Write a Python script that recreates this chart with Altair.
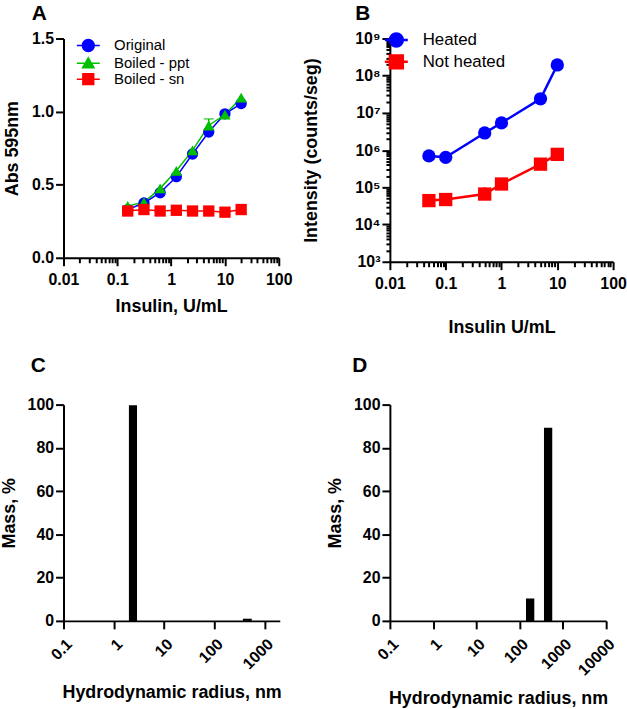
import altair as alt
import pandas as pd

FONT = "Liberation Sans"

# ---------------- Panel A ----------------
a_conc = [0.156, 0.3125, 0.625, 1.25, 2.5, 5, 10, 20]
a_original = [0.33, 0.375, 0.445, 0.555, 0.71, 0.86, 0.985, 1.055]
a_boiled_ppt = [0.355, 0.38, 0.475, 0.595, 0.735, 0.905, 0.98, 1.095]
a_boiled_ppt_sd = [0, 0, 0, 0, 0, 0.045, 0, 0]
a_boiled_sn = [0.32, 0.33, 0.32, 0.325, 0.32, 0.32, 0.312, 0.33]
a_series = ["Original", "Boiled - ppt", "Boiled - sn"]
a_colors = ["#0000ff", "#00c000", "#ff0000"]
a_shapes = ["circle", "triangle-up", "square"]

# ---------------- Panel B ----------------
b_conc = [0.05, 0.1, 0.5, 1, 5, 10]
b_heated = [7.0e5, 6.4e5, 2.9e6, 5.4e6, 2.4e7, 1.95e8]
b_heated_sd = [2.5e5, 0, 0, 0, 0, 0]
b_not_heated = [4.4e4, 4.7e4, 6.6e4, 1.23e5, 4.2e5, 7.7e5]
b_not_heated_sd = [1.8e4, 0, 3.4e4, 0, 1.6e5, 0]
b_series = ["Heated", "Not heated"]
b_colors = ["#0000ff", "#ff0000"]
b_shapes = ["circle", "square"]

# ---------------- Panel C ----------------
c_lo = [2.0, 370]
c_hi = [2.9, 555]
c_mass = [99.7, 1.0]

# ---------------- Panel D ----------------
d_lo = [140, 365]
d_hi = [218, 567]
d_mass = [10.4, 89.3]

# tick values (axis decoration)
ab_x_ticks = [m * 10.0 ** k for k in range(-2, 2) for m in range(1, 10)] + [100]
b_y_ticks = [m * 10.0 ** k for k in range(3, 9) for m in range(1, 10)] + [1e9]

POW10 = "(abs(log(datum.value)/LN10 - round(log(datum.value)/LN10)) < 1e-6)"
LOG_LABEL = POW10 + " ? format(datum.value, '~g') : ''"
SUP = "['\u2070','\u00b9','\u00b2','\u00b3','\u2074','\u2075','\u2076','\u2077','\u2078','\u2079']"
SUP_LABEL = POW10 + " ? '10' + " + SUP + "[round(log(datum.value)/LN10)] : ''"


def minor_ticks(major, minor):
    return {"condition": {"test": POW10, "value": major}, "value": minor}


def circle_path(r):
    return f"M-{r},0A{r},{r} 0 1,0 {r},0A{r},{r} 0 1,0 -{r},0Z"


def legend(sw, x, y, fs, rowpad, offset):
    return alt.Legend(
        title=None, orient="none", legendX=x, legendY=y, padding=0,
        labelFont=FONT, labelFontSize=fs, labelFontWeight="normal", labelColor="black",
        symbolSize=196, labelOffset=offset, rowPadding=rowpad,
        symbolStrokeWidth=sw, symbolOpacity=1,
    )


def panel_title(t, dx, offset):
    return alt.TitleParams(t, anchor="start", frame="group", dx=dx, offset=offset,
                           fontSize=21, fontWeight="bold", font=FONT, color="black")


def line_panel(df, series, colors, shapes, paths, xaxis, yaxis, xdom, ydom, ytype,
               lw, msize, leg, with_cap):
    xs = alt.Scale(type="log", domain=xdom, nice=False)
    ys = alt.Scale(type=ytype, domain=ydom, nice=False)
    x = alt.X("conc:Q", scale=xs, axis=xaxis)
    y = alt.Y("value:Q", scale=ys, axis=yaxis)
    col = alt.Color("series:N", scale=alt.Scale(domain=series, range=colors), legend=None)
    base = alt.Chart(df)
    err = base.transform_filter("datum.sd > 0")
    layers = [
        base.mark_line(strokeWidth=lw).encode(x=x, y=y, color=col),
        err.mark_rule(strokeWidth=lw).encode(x="conc:Q", y="value:Q", y2="upper:Q", color=col),
    ]
    if with_cap:
        layers.append(err.mark_tick(orient="horizontal", size=10, thickness=1.5).encode(
            x="conc:Q", y="upper:Q", color=col))
    layers.append(base.mark_point(filled=True, size=msize, opacity=1).encode(
        x=x, y=y, color=col,
        shape=alt.Shape("series:N", scale=alt.Scale(domain=series, range=shapes), legend=None)))
    # legend carrier (invisible marks, visible legend)
    layers.append(base.mark_point(opacity=0).encode(
        x=x, y=y,
        fill=alt.Fill("series:N", scale=alt.Scale(domain=series, range=colors), legend=leg),
        stroke=alt.Stroke("series:N", scale=alt.Scale(domain=series, range=colors), legend=leg),
        shape=alt.Shape("series:N", scale=alt.Scale(domain=series, range=paths), legend=leg)))
    return alt.layer(*layers).resolve_scale(shape="independent", fill="independent",
                                            stroke="independent")


# ---------- build A ----------
rows = []
for s, vals, sds in [("Original", a_original, [0] * 8),
                     ("Boiled - ppt", a_boiled_ppt, a_boiled_ppt_sd),
                     ("Boiled - sn", a_boiled_sn, [0] * 8)]:
    for c, v, e in zip(a_conc, vals, sds):
        rows.append({"conc": c, "value": v, "series": s, "upper": v + e, "sd": e})
a_df = pd.DataFrame(rows)

seg = "M-1.65,0H1.65"
a_paths = [seg + circle_path(0.86),
           seg + "M0,-0.8L0.82,0.62L-0.82,0.62Z",
           seg + "M-0.78,-0.78H0.78V0.78H-0.78Z"]

ax_a = alt.Axis(values=ab_x_ticks, labelExpr=LOG_LABEL, tickSize=minor_ticks(8, 5), labelPadding=6,
                title="Insulin, U/mL", titlePadding=10, labelOverlap=False, labelFlush=False)
ay_a = alt.Axis(values=[0, 0.5, 1, 1.5], format=".1f", tickSize=8,
                title="Abs 595nm", titlePadding=10)
A = line_panel(a_df, a_series, a_colors, a_shapes, a_paths, ax_a, ay_a, [0.01, 100], [0, 1.5],
               "linear", 1.5, 130, legend(1.5, 17, -1, 15, -1, 18), True
               ).properties(width=217, height=221, title=panel_title("A", -32, 7))

# ---------- build B ----------
rows = []
for s, vals, sds in [("Heated", b_heated, b_heated_sd), ("Not heated", b_not_heated, b_not_heated_sd)]:
    for c, v, e in zip(b_conc, vals, sds):
        rows.append({"conc": c, "value": v, "series": s, "upper": v + e, "sd": e})
b_df = pd.DataFrame(rows)

b_paths = [seg + circle_path(0.93), seg + "M-0.93,-0.93H0.93V0.93H-0.93Z"]
ax_b = alt.Axis(values=ab_x_ticks, labelExpr=LOG_LABEL, tickSize=minor_ticks(8, 5), labelPadding=6,
                title="Insulin U/mL", titlePadding=27, labelOverlap=False, labelFlush=False)
ay_b = alt.Axis(values=b_y_ticks, labelExpr=SUP_LABEL, tickSize=minor_ticks(8, 4),
                title="Intensity (counts/seg)", titlePadding=34, labelOverlap=False,
                labelFlush=False)
B = line_panel(b_df, b_series, b_colors, b_shapes, b_paths, ax_b, ay_b, [0.01, 100], [1e3, 1e9],
               "log", 2.5, 180, legend(2.5, -2, -7, 17, -3, 18), False
               ).properties(width=225, height=225, title=panel_title("B", -35, 7))


# ---------- build C / D ----------
def size_panel(lo, hi, mass, dmax, ticks, letter, dx):
    df = pd.DataFrame({"lo": lo, "hi": hi, "mass": mass})
    return alt.Chart(df).mark_rect(color="black").encode(
        x=alt.X("lo:Q", scale=alt.Scale(type="log", domain=[0.1, dmax], nice=False),
                axis=alt.Axis(values=ticks, labelExpr="format(datum.value, '~g')", labelAngle=-45,
                              labelOffset=0, labelPadding=7, tickSize=8,
                              title="Hydrodynamic radius, nm",
                              titlePadding=12, labelOverlap=False, labelFlush=False)),
        x2="hi:Q",
        y=alt.Y("mass:Q", scale=alt.Scale(domain=[0, 100], nice=False),
                axis=alt.Axis(values=[0, 20, 40, 60, 80, 100], tickSize=8, title="Mass, %",
                              titlePadding=9)),
        y2=alt.datum(0),
    ).properties(width=218, height=218, title=panel_title(letter, dx, 21))


C = size_panel(c_lo, c_hi, c_mass, 2000, [0.1, 1, 10, 100, 1000], "C", -33)
D = size_panel(d_lo, d_hi, d_mass, 10000, [0.1, 1, 10, 100, 1000, 10000], "D", -38)

chart = alt.concat(A, B, C, D, columns=2).resolve_scale(
    color="independent", shape="independent", fill="independent", stroke="independent"
).properties(
    spacing={"row": 144, "column": 104}, bounds="flush", align="all",
    padding={"left": 0, "top": 0, "right": 0, "bottom": 0},
).configure_axis(
    domainColor="black", domainWidth=2, tickColor="black", tickWidth=2,
    labelColor="black", labelFont=FONT, labelFontSize=16, labelFontWeight="bold", labelPadding=2,
    titleColor="black", titleFont=FONT, titleFontSize=18, titleFontWeight="bold", grid=False,
).configure_view(stroke=None)

chart.save("out.html", embed_options={"renderer": "svg", "actions": False})
